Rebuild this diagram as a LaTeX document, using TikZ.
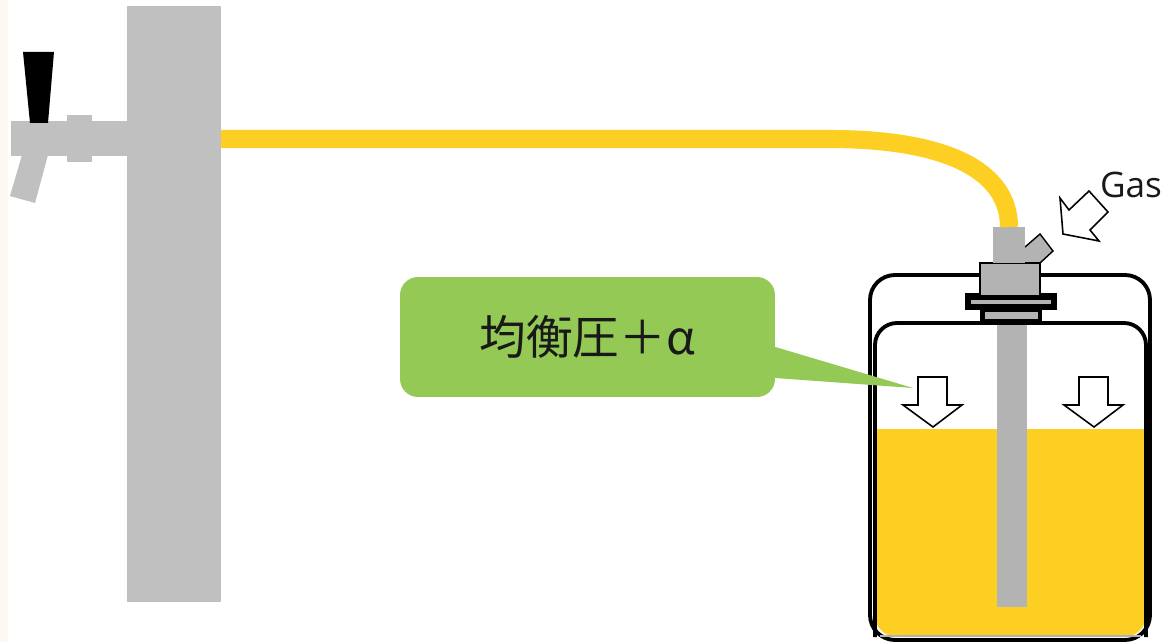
\documentclass[tikz,border=0pt]{standalone}
\usepackage{fontspec}
\setmainfont{Open Sans}
\newfontfamily\cjk{Noto Sans CJK JP}
\usetikzlibrary{positioning}

\definecolor{towergray}{HTML}{C0C0C0}
\definecolor{partgray}{HTML}{B3B3B3}
\definecolor{beer}{HTML}{FDCF22}
\definecolor{bubble}{HTML}{93C954}
\definecolor{edgebeige}{HTML}{FCF8F2}

\begin{document}
\begin{tikzpicture}[
    x=0.02cm, y=-0.02cm,
    tower/.style={rectangle, fill=towergray, inner sep=0pt, outer sep=0pt},
    coupler/.style={rectangle, fill=partgray, inner sep=0pt, outer sep=0pt},
    hose/.style={draw=beer, line width=10.3pt},
    kegline/.style={draw=black, line width=2.2pt},
    pressarrow/.style={draw=black, fill=white, line width=0.9pt, line join=miter},
    callout/.style={rectangle, fill=bubble, rounded corners=0.36cm, minimum width=7.5cm, minimum height=2.4cm, inner sep=0pt, font=\cjk\fontsize{26.5}{30}\selectfont, text=black!90}
]
\useasboundingbox (0,0) rectangle (1164,642);
\fill[white] (0,0) rectangle (1164,642);
\fill[edgebeige] (0,0) rectangle (8,642);

% Tower and faucet
\node[tower, minimum width=1.88cm, minimum height=11.92cm] (tower) at (174,304) {};
\coordinate (tap) at (221,139);
\fill[towergray] (11,121) rectangle (127,156);
\fill[towergray] (67,115) rectangle (92,162);
\fill[towergray] (22,155) -- (48,155) -- (35,203) -- (10,196) -- cycle;
\fill[black] (23,52) -- (54,52) -- (48,123) -- (30,123) -- cycle;

% Keg body
\draw[kegline, fill=white, rounded corners=0.5cm] (870,275) rectangle (1150,640);
\fill[beer, rounded corners=0.44cm] (875,429) -- (875,637) -- (1146,637) -- (1146,429) -- cycle;
\fill[beer] (875,429) rectangle (1146,560);
\draw[kegline, rounded corners=0.44cm] (875,637) -- (875,323) -- (1146,323) -- (1146,637);
\draw[partgray, line width=0.8pt] (880,636) -- (1141,636);

% Dip tube
\fill[partgray] (997,325) rectangle (1027,607);

% Pressure arrows
\foreach \cx in {933,1094}
  \draw[pressarrow] (\cx-15,377) -- (\cx+14,377) -- (\cx+14,405) -- (\cx+29,405)
    -- (\cx,427) -- (\cx-30,405) -- (\cx-15,405) -- cycle;

% Coupler and neck
\fill[black] (980,309) rectangle (1042,325);
\fill[partgray] (985,312) rectangle (1038,319);
\fill[black] (965,293) rectangle (1057,310);
\fill[partgray] (971,300) rectangle (1051,304);
\fill[partgray] (1025,247) -- (1040,234) -- (1053,251) -- (1040,263) -- (1025,263) -- cycle;
\draw[black, line width=0.8pt, line join=miter] (1025,247) -- (1040,234) -- (1053,251) -- (1040,263);
\draw[black, fill=partgray, line width=0.8pt] (980,263) rectangle (1040,296);
\node[coupler, minimum width=0.64cm, minimum height=0.72cm] (coupler) at (1009,245) {};

% Beer line
\draw[hose] (tap) -- (830,139) .. controls (945,139) and (1009,170) .. (coupler.north);

% Gas inlet
\node[font=\fontsize{20}{24}\selectfont, text=black!90] (gas) at (1131,185) {Gas};
\draw[pressarrow] (1063,234) -- (1060,198) -- (1069,210) -- (1089,191) -- (1108,212)
  -- (1090,230) -- (1099,241) -- cycle;

% Pressure callout
\node[callout] (label) at (587.5,337) {均衡圧＋α};
\coordinate (tip) at (913,388);
\fill[bubble] ([yshift=-0.2cm]label.east) -- (tip) -- ([yshift=-0.82cm]label.east) -- ([xshift=-0.3cm,yshift=-0.82cm]label.east) -- ([xshift=-0.3cm,yshift=-0.2cm]label.east) -- cycle;

\end{tikzpicture}
\end{document}
